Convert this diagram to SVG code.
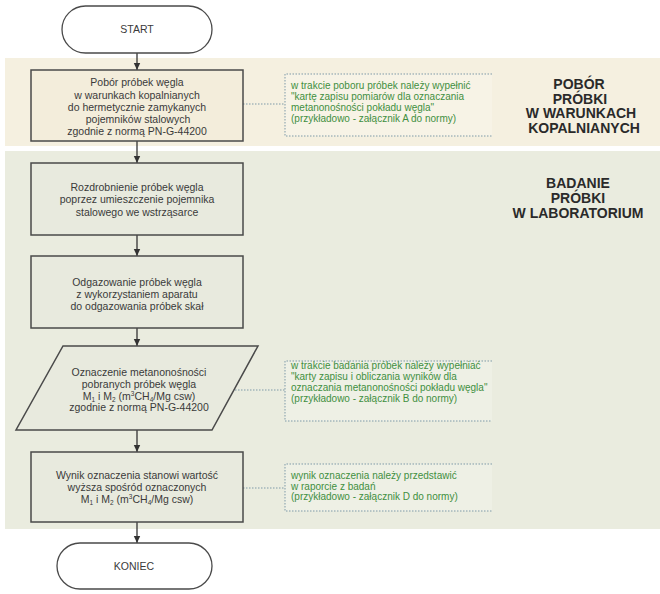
<svg xmlns="http://www.w3.org/2000/svg" width="660" height="594" viewBox="0 0 660 594">
<style>
.band1{fill:#f5f0e0}
.band2{fill:#eaecdf}
.box{stroke:#4a4a4a;stroke-width:1.5}
.term{fill:#ffffff;stroke:#4a4a4a;stroke-width:1.3}
.t{font-family:"Liberation Sans",Arial,sans-serif;font-size:10.5px;fill:#3a3a3a;text-anchor:middle}
.n{font-family:"Liberation Sans",Arial,sans-serif;font-size:10px;fill:#3f8f3f}
.h{font-family:"Liberation Sans",Arial,sans-serif;font-size:14px;font-weight:bold;fill:#2a2a2a;text-anchor:middle}
.note{stroke:#7f9aa8;stroke-width:1;stroke-dasharray:1.5 1.5;fill:none}
.arr{stroke:#333;stroke-width:1.3;fill:none;marker-end:url(#ah)}
.dl{stroke:#7f9aa8;stroke-width:1;stroke-dasharray:1.5 1.5;fill:none}
.sub{font-size:6.5px}
</style>
<defs>
<marker id="ah" markerWidth="8" markerHeight="8" refX="7" refY="4" orient="auto" markerUnits="userSpaceOnUse">
<path d="M0,0.8 L7,4 L0,7.2 Z" fill="#333"/>
</marker>
</defs>
<rect width="660" height="594" fill="#ffffff"/>
<g id="bands">
<rect class="band1" x="5" y="58" width="655" height="88"/>
<rect class="band2" x="5" y="151" width="655" height="378"/>
</g>
<g id="labels">
<text class="h" x="579" y="89">POBÓR</text>
<text class="h" x="580" y="103.5">PRÓBKI</text>
<text class="h" x="581" y="118">W WARUNKACH</text>
<text class="h" x="584" y="132.5">KOPALNIANYCH</text>
<text class="h" x="578" y="188">BADANIE</text>
<text class="h" x="578" y="203">PRÓBKI</text>
<text class="h" x="578" y="218">W LABORATORIUM</text>
</g>
<g id="connectors">
<line class="arr" x1="137" y1="53" x2="137" y2="70"/>
<line class="arr" x1="137" y1="141" x2="137" y2="163"/>
<line class="arr" x1="137" y1="235" x2="137" y2="256"/>
<line class="arr" x1="137" y1="328" x2="137" y2="346"/>
<line class="arr" x1="137" y1="430" x2="137" y2="452"/>
<line class="arr" x1="137" y1="522" x2="137" y2="543"/>
<line class="dl" x1="243" y1="104" x2="285" y2="104"/>
<line class="dl" x1="235" y1="390" x2="285" y2="390"/>
<line class="dl" x1="243" y1="488" x2="285" y2="488"/>
</g>
<g id="start">
<rect class="term" x="62" y="6" width="150" height="47" rx="23.5"/>
<text class="t" x="137" y="33">START</text>
</g>
<g id="pobor">
<rect class="box" x="31" y="70" width="212" height="71" fill="#f3eddb"/>
<text class="t" x="137" y="86">Pobór próbek węgla</text>
<text class="t" x="137" y="98.5">w warunkach kopalnianych</text>
<text class="t" x="137" y="111">do hermetycznie zamykanych</text>
<text class="t" x="138" y="123">pojemników stalowych</text>
<text class="t" x="137" y="135">zgodnie z normą PN-G-44200</text>
</g>
<g id="note1">
<rect x="285" y="74" width="207" height="62" fill="#f7f3e6"/>
<path class="note" d="M492,74 H285 V136 H492"/>
<text class="n" x="291" y="89">w trakcie poboru próbek należy wypełnić</text>
<text class="n" x="291" y="100">"kartę zapisu pomiarów dla oznaczania</text>
<text class="n" x="291" y="111">metanonośności pokładu węgla"</text>
<text class="n" x="291" y="122">(przykładowo - załącznik A do normy)</text>
</g>
<g id="rozdrobnienie">
<rect class="box" x="31" y="163" width="212" height="72" fill="#e8eade"/>
<text class="t" x="137" y="191">Rozdrobnienie próbek węgla</text>
<text class="t" x="137" y="203">poprzez umieszczenie pojemnika</text>
<text class="t" x="137" y="215.5">stalowego we wstrząsarce</text>
</g>
<g id="odgazowanie">
<rect class="box" x="31" y="256" width="212" height="72" fill="#e8eade"/>
<text class="t" x="137" y="286">Odgazowanie próbek węgla</text>
<text class="t" x="137" y="298">z wykorzystaniem aparatu</text>
<text class="t" x="137" y="310">do odgazowania próbek skał</text>
</g>
<g id="oznaczenie">
<polygon class="box" points="63,346 258,346 212,430 16,430" fill="#e8eade"/>
<text class="t" x="139" y="376">Oznaczenie metanonośności</text>
<text class="t" x="139" y="388">pobranych próbek węgla</text>
<text class="t" x="139" y="399.5">M<tspan class="sub" dy="2">1</tspan><tspan dy="-2"> i M</tspan><tspan class="sub" dy="2">2</tspan><tspan dy="-2"> (m</tspan><tspan class="sub" dy="-4">3</tspan><tspan dy="4">CH</tspan><tspan class="sub" dy="2">4</tspan><tspan dy="-2">/Mg csw)</tspan></text>
<text class="t" x="139" y="411">zgodnie z normą PN-G-44200</text>
</g>
<g id="note2">
<rect x="285" y="361" width="207" height="60" fill="#eef0e5"/>
<path class="note" d="M492,361 H285 V421 H492"/>
<text class="n" x="291" y="369">w trakcie badania próbek należy wypełniać</text>
<text class="n" x="291" y="380">"karty zapisu i obliczania wyników dla</text>
<text class="n" x="291" y="391">oznaczania metanonośności pokładu węgla"</text>
<text class="n" x="291" y="402">(przykładowo - załącznik B do normy)</text>
</g>
<g id="wynik">
<rect class="box" x="31" y="452" width="212" height="70" fill="#e8eade"/>
<text class="t" x="137" y="479">Wynik oznaczenia stanowi wartość</text>
<text class="t" x="137" y="491">wyższa spośród oznaczonych</text>
<text class="t" x="137" y="503">M<tspan class="sub" dy="2">1</tspan><tspan dy="-2"> i M</tspan><tspan class="sub" dy="2">2</tspan><tspan dy="-2"> (m</tspan><tspan class="sub" dy="-4">3</tspan><tspan dy="4">CH</tspan><tspan class="sub" dy="2">4</tspan><tspan dy="-2">/Mg csw)</tspan></text>
</g>
<g id="note3">
<rect x="285" y="464" width="207" height="47" fill="#eef0e5"/>
<path class="note" d="M492,464 H285 V511 H492"/>
<text class="n" x="291" y="479">wynik oznaczenia należy przedstawić</text>
<text class="n" x="291" y="489.5">w raporcie z badań</text>
<text class="n" x="291" y="500">(przykładowo - załącznik D do normy)</text>
</g>
<g id="koniec">
<rect class="term" x="57" y="543" width="155" height="46" rx="23"/>
<text class="t" x="134" y="570">KONIEC</text>
</g>
</svg>
